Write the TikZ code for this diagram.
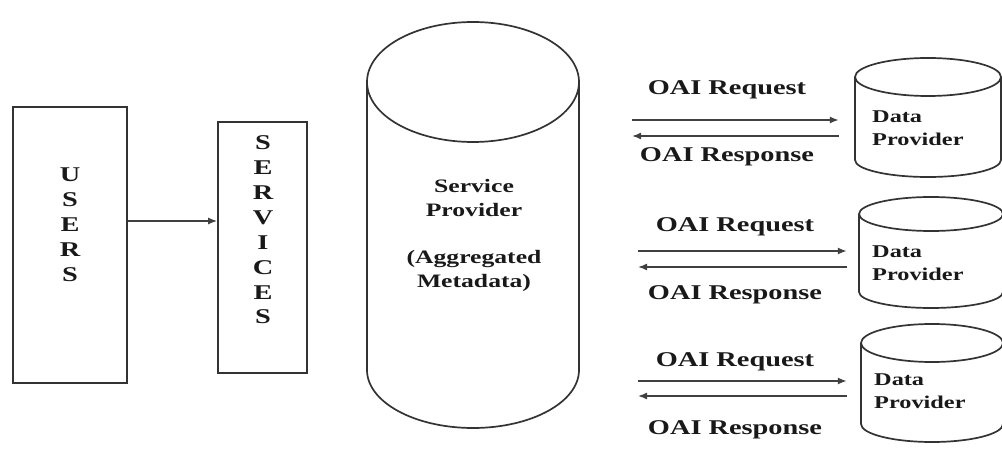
\documentclass[tikz,border=0pt]{standalone}
\usepackage{fontspec}
\setmainfont{Liberation Serif}[FakeStretch=1.35]
\usetikzlibrary{arrows.meta}
\begin{document}
\begin{tikzpicture}[x=1pt,y=-1pt,
  line/.style={line width=1.7pt, draw=black!80},
  box/.style={line, rectangle, inner sep=0pt},
  body/.style={rectangle, inner sep=0pt, draw=none},
  arr/.style={line width=1.5pt, draw=black!75, -{Latex[length=9pt,width=7pt]}},
  letters/.style={align=center, inner sep=0pt, text=black!90, font=\fontsize{21}{25}\selectfont\bfseries},
  lbl/.style={inner sep=0pt, text=black!90, font=\fontsize{21}{24}\selectfont\bfseries},
  sptext/.style={align=center, inner sep=0pt, text=black!90, font=\fontsize{19}{24}\selectfont\bfseries},
  dptext/.style={align=left, anchor=west, inner sep=0pt, text=black!90, font=\fontsize{18}{23}\selectfont\bfseries}
]
\useasboundingbox (0,0) rectangle (1002,449);

% USERS and SERVICES
\node[box, minimum width=114pt, minimum height=276pt] (users) at (70,245) {};
\node[letters] (usersT) at (70,225) {U\\S\\E\\R\\S};
\node[box, minimum width=89pt, minimum height=251pt] (services) at (262.5,247.5) {};
\node[letters, font=\fontsize{21}{24.9}\selectfont\bfseries] (servicesT) at (263,230) {S\\E\\R\\V\\I\\C\\E\\S};
\coordinate (ua) at (0,221);
\draw[arr] (users.east |- ua) -- (services.west |- ua);

% Service provider cylinder
\draw[line] (473,82) ellipse [x radius=106, y radius=60];
\draw[line] (367,82) -- (367,370) arc[start angle=180, end angle=0, x radius=106, y radius=58] -- (579,82);
\node[sptext] (sp) at (474,235) {Service\\Provider\\[23pt](Aggregated\\Metadata)};

% Data provider 1
\draw[line] (928,77) ellipse [x radius=73, y radius=19];
\draw[line] (855,77) -- (855,160) arc[start angle=180, end angle=0, x radius=73, y radius=17] -- (1001,77);
\node[body, minimum width=146pt, minimum height=83pt] (dp1) at (928,118.5) {};
\node[dptext] (dp1t) at (872,128) {Data\\Provider};

% Data provider 2
\draw[line] (931,214) ellipse [x radius=72, y radius=17];
\draw[line] (859,214) -- (859,292) arc[start angle=180, end angle=0, x radius=72, y radius=16] -- (1003,214);
\node[body, minimum width=144pt, minimum height=78pt] (dp2) at (931,253) {};
\node[dptext] (dp2t) at (872,263) {Data\\Provider};

% Data provider 3
\draw[line] (932,343) ellipse [x radius=71, y radius=19];
\draw[line] (861,343) -- (861,424) arc[start angle=180, end angle=0, x radius=71, y radius=18] -- (1003,343);
\node[body, minimum width=142pt, minimum height=81pt] (dp3) at (932,383.5) {};
\node[dptext] (dp3t) at (874,391) {Data\\Provider};

% OAI arrows row 1
\coordinate (q1) at (632,120);
\coordinate (p1) at (632,136);
\draw[arr, shorten >=16pt] (q1) -- (q1 -| dp1.west);
\draw[arr, shorten <=16pt] (p1 -| dp1.west) -- (p1);
\node[lbl] (req1) at (727,90) {OAI Request};
\node[lbl] (res1) at (727,157) {OAI Response};

% row 2
\coordinate (q2) at (638,251);
\coordinate (p2) at (638,267);
\draw[arr, shorten >=12pt] (q2) -- (q2 -| dp2.west);
\draw[arr, shorten <=12pt] (p2 -| dp2.west) -- (p2);
\node[lbl] (req2) at (735,227) {OAI Request};
\node[lbl] (res2) at (735,295) {OAI Response};

% row 3
\coordinate (q3) at (638,381);
\coordinate (p3) at (638,396);
\draw[arr, shorten >=14pt] (q3) -- (q3 -| dp3.west);
\draw[arr, shorten <=14pt] (p3 -| dp3.west) -- (p3);
\node[lbl] (req3) at (735,362) {OAI Request};
\node[lbl] (res3) at (735,430) {OAI Response};
\end{tikzpicture}
\end{document}
